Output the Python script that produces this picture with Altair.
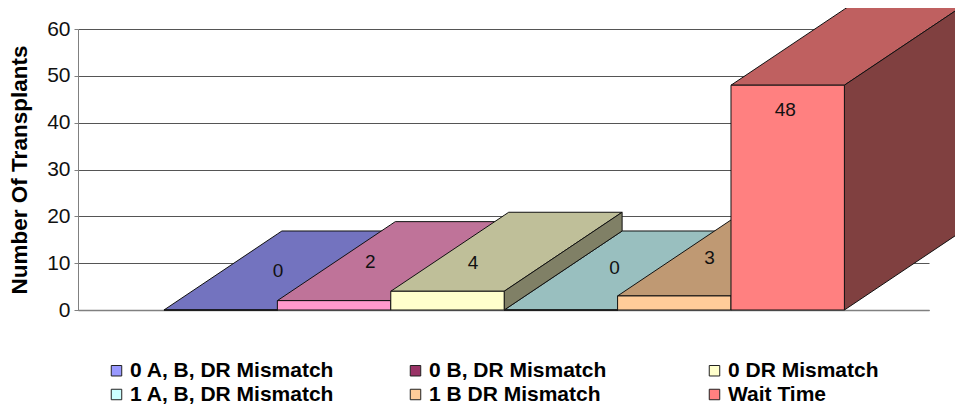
import altair as alt
import pandas as pd

series = ["0 A, B, DR Mismatch", "0 B, DR Mismatch", "0 DR Mismatch",
          "1 A, B, DR Mismatch", "1 B DR Mismatch", "Wait Time"]
values = [0, 2, 4, 0, 3, 48]
legend_colors = ["#9999FF", "#993366", "#FFFFCC", "#CCFFFF", "#FFCC99", "#FF8080"]
front_colors = ["#9999FF", "#FF99CC", "#FFFFCC", "#CCFFFF", "#FFCC99", "#FF8080"]
top_colors = ["#7373BF", "#BF7399", "#BFBF99", "#99BFBF", "#BF9973", "#BF6060"]
side_colors = ["#4D4D80", "#804D66", "#808066", "#668080", "#80664D", "#804040"]
draw_order = [0, 1, 3, 2, 4, 5]
y_ticks = [0, 10, 20, 30, 40, 50, 60]
# label placement relative to each bar's front centre (x: bar widths, y: axis units)
label_dx = [0.505, 0.32, 0.226, 0.473, 0.311, -0.022]
label_dy = [8.5, 8.46, 6.25, 9.1, 8.38, -5.14]

DEPTH_X = 1.04
DEPTH_Y = 16.87
FONT = "Liberation Sans"

x_scale = alt.Scale(domain=[-0.758, 6.746], nice=False, zero=False)
y_scale = alt.Scale(domain=[0, 60], nice=False, zero=False)
x_axis = alt.Axis(title=None, labels=False, ticks=False, grid=False,
                  domainColor="#808080", domainWidth=1.5)
y_axis = alt.Axis(title="Number Of Transplants", values=y_ticks, grid=True,
                  gridColor="#555555", gridWidth=1.2, domainColor="#808080",
                  domainWidth=1, tickColor="#808080", tickSize=4, labelPadding=4,
                  labelFont=FONT, labelFontSize=21, labelColor="#111111",
                  titleFont=FONT, titleFontSize=22.5, titleFontWeight="bold",
                  titleColor="#000000", titlePadding=15)
X = lambda f: alt.X(f, scale=x_scale, axis=x_axis)
Y = lambda f: alt.Y(f, scale=y_scale, axis=y_axis)
STROKE = {"stroke": "#111111", "strokeWidth": 1}

base = pd.DataFrame({
    "series": series,
    "x": list(range(6)),
    "zero": [0] * 6,
})

legend_layer = alt.Chart(base).mark_square(size=0).encode(
    x=X("x:Q"),
    y=Y("zero:Q"),
    color=alt.Color("series:N", scale=alt.Scale(domain=series, range=legend_colors),
                    legend=alt.Legend(
                        title=None, orient="none", legendX=28, legendY=331,
                        columns=3, direction="horizontal", gridAlign="all",
                        columnPadding=70, rowPadding=2,
                        symbolType="square", symbolSize=110, symbolOpacity=1,
                        symbolStrokeColor="#222222", symbolStrokeWidth=1,
                        labelFont=FONT, labelFontSize=21, labelFontWeight="bold",
                        labelColor="#000000", labelOffset=3, labelLimit=400)),
)

layers = [legend_layer]
for i in draw_order:
    x0, x1, v = i, i + 1, values[i]
    # top face as a vertical-band area between its lower and upper edge
    frac_a = 1 / DEPTH_X
    frac_b = (DEPTH_X - 1) / DEPTH_X
    top = pd.DataFrame({
        "x": [x0, x1, x0 + DEPTH_X, x1 + DEPTH_X],
        "ya": [v, v, v + DEPTH_Y * frac_b, v + DEPTH_Y],
        "yb": [v, v + DEPTH_Y * frac_a, v + DEPTH_Y, v + DEPTH_Y],
    })
    side = pd.DataFrame({
        "x": [x1, x1 + DEPTH_X],
        "ya": [0, DEPTH_Y],
        "yb": [v, v + DEPTH_Y],
    })
    front = pd.DataFrame({"xa": [x0], "xb": [x1], "ya": [0], "yb": [v]})
    layers.append(alt.Chart(top).mark_area(color=top_colors[i], **STROKE).encode(
        x=X("x:Q"), y=Y("ya:Q"), y2="yb:Q",
    ))
    layers.append(alt.Chart(side).mark_area(color=side_colors[i], **STROKE).encode(
        x=X("x:Q"), y=Y("ya:Q"), y2="yb:Q",
    ))
    layers.append(alt.Chart(front).mark_rect(color=front_colors[i], **STROKE).encode(
        x=X("xa:Q"), x2="xb:Q", y=Y("ya:Q"), y2="yb:Q",
    ))

labels = pd.DataFrame({
    "label": [str(v) for v in values],
    "lx": [i + 0.5 + d for i, d in enumerate(label_dx)],
    "ly": [v + d for v, d in zip(values, label_dy)],
})
layers.append(alt.Chart(labels).mark_text(
    font=FONT, fontSize=19, dy=1, color="#111111", align="center", baseline="middle"
).encode(
    x=X("lx:Q"), y=Y("ly:Q"), text="label:N",
))

chart = alt.layer(*layers).properties(
    width=851, height=281,
    autosize="none",
    padding={"left": 70, "top": 21, "right": 26, "bottom": 95},
).configure_view(stroke=None)

chart.save("out.html", embed_options={"renderer": "svg", "actions": False})
